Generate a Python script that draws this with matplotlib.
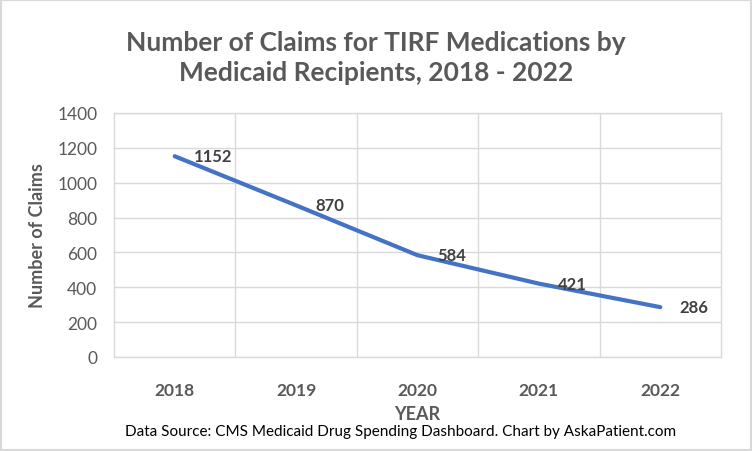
import matplotlib.pyplot as plt
from matplotlib.patches import Rectangle

# ==========================================
# DATA
# ==========================================

years = ["2018", "2019", "2020", "2021", "2022"]
claims = [1152, 870, 584, 421, 286]

plt.rcParams["font.family"] = ["Lato", "DejaVu Sans"]
gray = "#595959"

# ==========================================
# FIGURE
# ==========================================

fig = plt.figure(figsize=(7.52, 4.52), dpi=100)
ax = fig.add_axes([114 / 752, 1 - 358 / 452, 607 / 752, 244 / 452])

x = list(range(len(years)))
ax.plot(x, claims, color="#4472C4", linewidth=3, solid_capstyle="round")

for xi, v in zip(x, claims):
    ax.annotate(str(v), (xi, v), xytext=(14, 0), textcoords="offset points",
                ha="left", va="center", fontsize=12, fontweight="bold",
                color="#404040")

ax.set_xlim(-0.5, len(years) - 0.5)
ax.set_ylim(0, 1400)
ax.set_yticks(range(0, 1401, 200))
ax.set_xticks(x)
ax.set_xticklabels(years, fontweight="bold")
ax.set_xticks([i + 0.5 for i in x[:-1]], minor=True)

ax.grid(True, axis="y", which="major", color="#D9D9D9", linewidth=1)
ax.grid(True, axis="x", which="minor", color="#D9D9D9", linewidth=1)
ax.grid(False, axis="x", which="major")
ax.set_axisbelow(True)
for s in ax.spines.values():
    s.set_color("#D9D9D9")
    s.set_linewidth(1)

ax.tick_params(axis="both", which="both", length=0, labelsize=12.5, colors=gray)
ax.tick_params(axis="x", pad=18)
ax.tick_params(axis="y", pad=12)

ax.set_ylabel("Number of Claims", fontsize=13, fontweight="bold", color=gray,
              labelpad=8)
ax.set_xlabel("YEAR", fontsize=13, fontweight="bold", color=gray, labelpad=5)

fig.text(376 / 752, 1 - 58 / 452,
         "Number of Claims for TIRF Medications by\nMedicaid Recipients, 2018 - 2022",
         ha="center", va="center", fontsize=19, fontweight="bold", color=gray,
         linespacing=1.3)
fig.text(401 / 752, 1 - 432 / 452,
         "Data Source: CMS Medicaid Drug Spending Dashboard. Chart by AskaPatient.com",
         ha="center", va="center", fontsize=11, color="black")

fig.patches.append(Rectangle((0, 0), 1, 1, transform=fig.transFigure,
                             fill=False, edgecolor="#D9D9D9", linewidth=3))

plt.savefig("out.png", dpi=100)
plt.close()
